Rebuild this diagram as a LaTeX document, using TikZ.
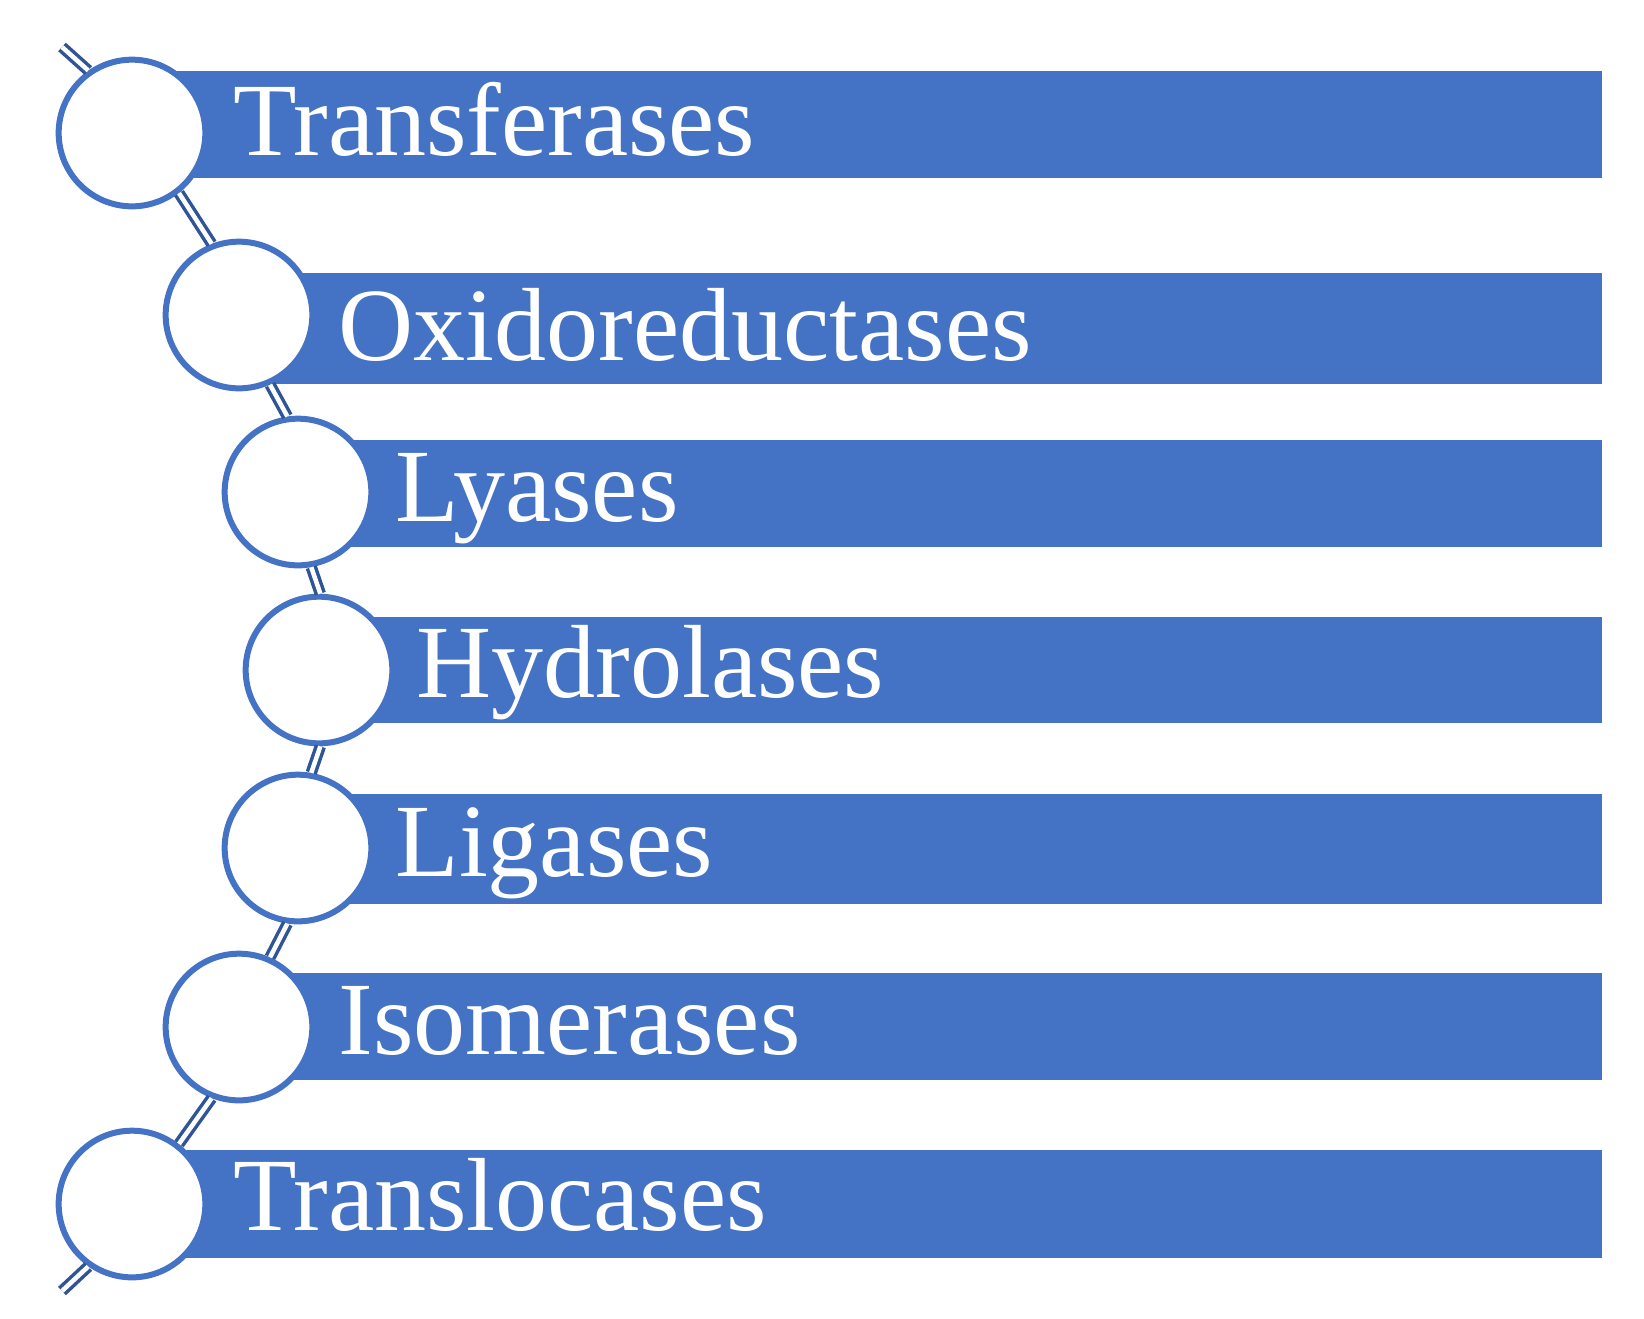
\documentclass[tikz,border=0pt]{standalone}
\usepackage{fontspec}
\setmainfont{Liberation Serif}

\definecolor{barblue}{RGB}{68,114,196}
\definecolor{ringblue}{RGB}{68,114,196}
\definecolor{linkblue}{RGB}{47,85,151}

\tikzset{every picture/.style={line width=0.75pt}}

\begin{document}
\begin{tikzpicture}[x=0.75pt,y=0.75pt,yscale=-1,xscale=1,
  bar/.style={fill=barblue},
  ring/.style={circle,draw=ringblue,line width=4.5pt,fill=white,minimum size=110pt,inner sep=0pt},
  link/.style={draw=linkblue,line width=2.6pt,double=white,double distance=3.4pt},
  entry/.style={anchor=base west,inner sep=0pt,text=white,font=\fontsize{78}{78}\selectfont}]
\useasboundingbox (0,0) rectangle (1644,1318);

%Shape: Rectangle (bars behind the rings)
\fill[bar] (132,71) rectangle (1602,178);
\fill[bar] (238,273) rectangle (1602,384);
\fill[bar] (298,440) rectangle (1602,547);
\fill[bar] (319,617) rectangle (1602,723);
\fill[bar] (298,794) rectangle (1602,904);
\fill[bar] (238,973) rectangle (1602,1080);
\fill[bar] (132,1150) rectangle (1602,1258);

%Shape: Circle
\node[ring] (c1) at (132,133) {};
\node[ring] (c2) at (239,315) {};
\node[ring] (c3) at (298,492) {};
\node[ring] (c4) at (319,670) {};
\node[ring] (c5) at (298,848) {};
\node[ring] (c6) at (239,1027) {};
\node[ring] (c7) at (132,1204) {};

%Straight Lines (free ends of the chain)
\coordinate (top) at (62,47);
\coordinate (bot) at (62,1291);

% chain
\draw[link] (top) -- (c1.125);
\draw[link] (c1.-52) -- (c2.111);
\draw[link] (c2.-66) -- (c3.98);
\draw[link] (c3.-80) -- (c4.89);
\draw[link] (c4.-89) -- (c5.80);
\draw[link] (c5.-98) -- (c6.66);
\draw[link] (c6.-111) -- (c7.52);
\draw[link] (c7.235) -- (bot);

% Text Node
\node[entry] (t1) at (233,155) {Transferases};
% Text Node
\node[entry] (t2) at (338,360) {Oxidoreductases};
% Text Node
\node[entry] (t3) at (395,521) {Lyases};
% Text Node
\node[entry] (t4) at (416,697) {Hydrolases};
% Text Node
\node[entry] (t5) at (395,876) {Ligases};
% Text Node
\node[entry] (t6) at (338,1054) {Isomerases};
% Text Node
\node[entry] (t7) at (233,1230) {Translocases};

\end{tikzpicture}
\end{document}
